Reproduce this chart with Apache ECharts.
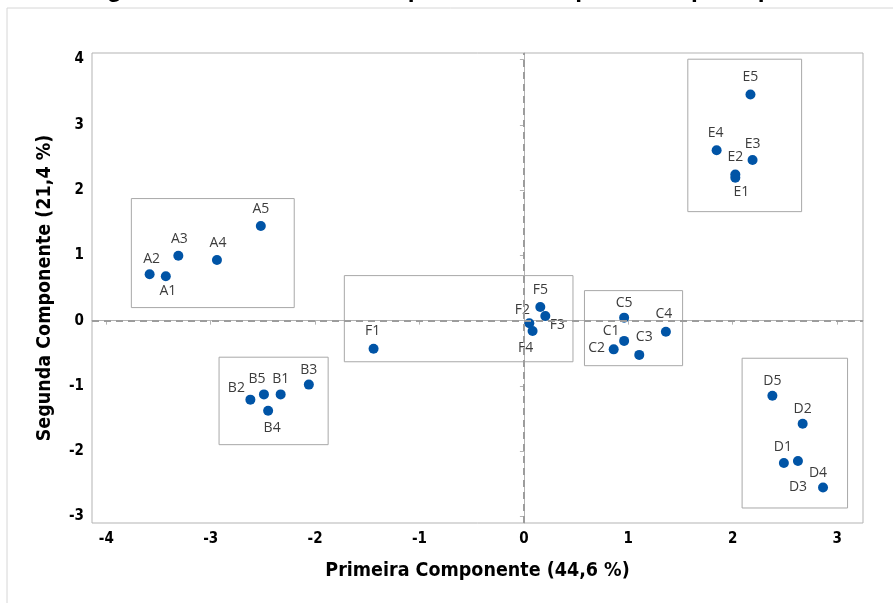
<!DOCTYPE html>
<html>
<head>
<meta charset="utf-8">
<script src="https://cdn.jsdelivr.net/npm/echarts@6/dist/echarts.min.js"></script>
<style>
  html, body { margin: 0; padding: 0; background: #fff; }
  #chart { width: 893px; height: 603px; }
</style>
</head>
<body>
<div id="chart"></div>
<script>
// 样本名称与前两个主成分得分
const names = ['A1','A2','A3','A4','A5','B1','B2','B3','B4','B5','C1','C2','C3','C4','C5',
               'D1','D2','D3','D4','D5','E1','E2','E3','E4','E5','F1','F2','F3','F4','F5'];
const pc1 = [-3.43,-3.585,-3.31,-2.94,-2.52, -2.33,-2.62,-2.06,-2.45,-2.49, 0.96,0.86,1.105,1.36,0.96,
             2.49,2.67,2.625,2.865,2.38, 2.025,2.025,2.19,1.846,2.17, -1.44,0.052,0.205,0.083,0.157];
const pc2 = [0.68,0.71,0.995,0.93,1.45, -1.13,-1.21,-0.98,-1.38,-1.13, -0.31,-0.44,-0.525,-0.17,0.046,
             -2.18,-1.58,-2.15,-2.555,-1.15, 2.19,2.24,2.46,2.61,3.465, -0.43,-0.04,0.07,-0.16,0.21];
const xTicks = [-4, -3, -2, -1, 0, 1, 2, 3];
const yTicks = [-3, -2, -1, 0, 1, 2, 3, 4];
// 分组框 [x1, x2, y1, y2]
const groupBoxes = [
  [-3.76, -2.20, 1.87, 0.20],
  [-2.92, -1.875, -0.56, -1.90],
  [-1.72, 0.47, 0.69, -0.63],
  [0.58, 1.52, 0.46, -0.69],
  [1.57, 2.66, 4.005, 1.67],
  [2.09, 3.10, -0.576, -2.87]
];

// 标签偏移（像素）
const labelOffsets = {
  A1: [2, 15], A2: [2, -15], A3: [1, -17], A4: [1, -17], A5: [0, -17],
  B1: [0, -15], B2: [-14, -12], B3: [0, -15], B4: [4, 17], B5: [-7, -15],
  C1: [-13, -10], C2: [-17, -1], C3: [5, -18], C4: [-2, -18], C5: [0, -15],
  D1: [-1, -16], D2: [0, -15], D3: [0, 26], D4: [-5, -14], D5: [0, -15],
  E1: [6, 14], E2: [0, -17], E3: [0, -16], E4: [-1, -17], E5: [0, -17],
  F1: [-1, -18], F2: [-7, -13], F3: [12, 9], F4: [-7, 17], F5: [0, -17]
};

const boldFont = "'DejaVu Sans Condensed', 'DejaVu Sans', sans-serif";
const axisGray = '#b3b3b3';

const chart = echarts.init(document.getElementById('chart'));
chart.setOption({
  animation: false,
  backgroundColor: '#fff',
  graphic: [
    {
      type: 'rect',
      shape: { x: 7, y: 8, width: 900, height: 600 },
      style: { fill: 'none', stroke: '#d6d6d6', lineWidth: 1 },
      silent: true
    },
    {
      type: 'text',
      x: 446, y: 3,
      style: {
        text: 'Figura 5 - Gráfico das duas primeiras componentes principais',
        font: "bold 24.5px 'Liberation Sans', Arial, sans-serif",
        fill: '#000',
        textAlign: 'center',
        textVerticalAlign: 'bottom'
      },
      silent: true
    }
  ],
  grid: {
    left: 92, right: 30, top: 53, bottom: 80,
    show: true, borderColor: axisGray, borderWidth: 1
  },
  xAxis: {
    type: 'value',
    min: -4.137, max: 3.248,
    name: 'Primeira Componente (44,6 %)',
    nameLocation: 'middle',
    nameGap: 38,
    nameTextStyle: { fontFamily: boldFont, fontWeight: 'bold', fontSize: 19.5, color: '#000' },
    axisLine: { show: true, lineStyle: { color: axisGray } },
    axisTick: { show: true, length: 4, customValues: xTicks, lineStyle: { color: axisGray } },
    axisLabel: { customValues: xTicks, fontFamily: boldFont, fontWeight: 'bold', fontSize: 15, color: '#000', margin: 9 },
    splitLine: { show: false }
  },
  yAxis: {
    type: 'value',
    min: -3.10, max: 4.10,
    name: 'Segunda Componente (21,4 %)',
    nameLocation: 'middle',
    nameGap: 37,
    nameTextStyle: { fontFamily: boldFont, fontWeight: 'bold', fontSize: 19.5, color: '#000' },
    axisLine: { show: true, lineStyle: { color: axisGray } },
    axisTick: { show: true, length: 4, customValues: yTicks, lineStyle: { color: axisGray } },
    axisLabel: { customValues: yTicks, fontFamily: boldFont, fontWeight: 'bold', fontSize: 15, color: '#000', margin: 8 },
    splitLine: { show: false }
  },
  series: [
    {
      // 参考线与分组框
      type: 'scatter',
      data: [],
      z: 1,
      silent: true,
      markLine: {
        symbol: 'none',
        silent: true,
        label: { show: false },
        lineStyle: { type: [7, 5], color: '#9c9c9c', width: 2 },
        data: [{ xAxis: 0 }, { yAxis: 0 }]
      },
      markArea: {
        silent: true,
        itemStyle: { color: 'rgba(0,0,0,0)', borderColor: '#a8a8a8', borderWidth: 1 },
        data: groupBoxes.map(b => [{ coord: [b[0], b[2]] }, { coord: [b[1], b[3]] }])
      }
    },
    {
      type: 'scatter',
      z: 3,
      symbolSize: 10,
      itemStyle: { color: '#0054a6', opacity: 1 },
      label: {
        show: true,
        position: 'inside',
        formatter: p => p.data.name,
        fontFamily: "'Open Sans', 'Noto Sans', sans-serif",
        fontSize: 14,
        color: '#3c3c3c'
      },
      data: names.map((n, i) => ({
        name: n,
        value: [pc1[i], pc2[i]],
        label: { offset: labelOffsets[n] }
      }))
    }
  ]
});
</script>
</body>
</html>
